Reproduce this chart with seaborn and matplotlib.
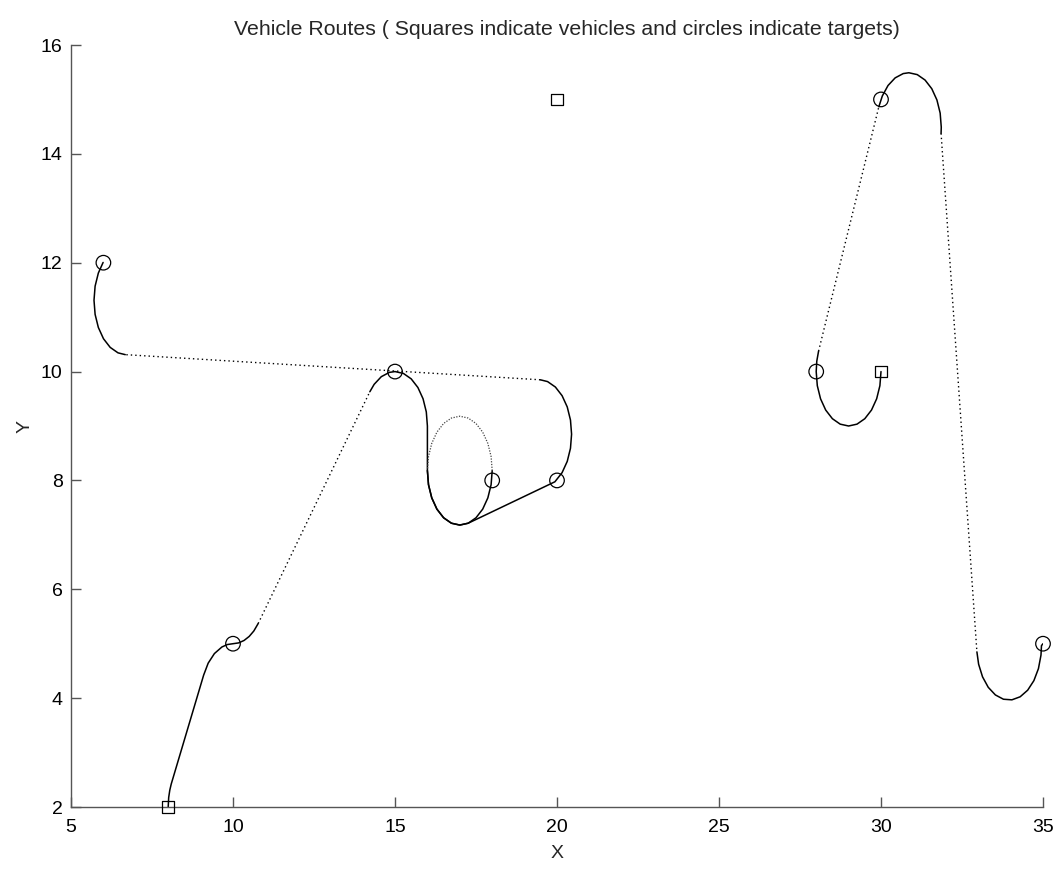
import matplotlib
matplotlib.use("Agg")
import matplotlib.pyplot as plt
import seaborn as sns
import pandas as pd

# ---------------- data ----------------
# vehicles (squares) and targets (circles)
vehicle_x = [8, 20, 30]
vehicle_y = [2, 15, 10]
target_x = [10, 15, 18, 20, 6, 28, 30, 35]
target_y = [5, 10, 8, 8, 12, 10, 15, 5]

# Vehicle 1 route (starts at (8,2)) -- solid arcs / dotted straight legs
r1_a_x = [8.0, 8.015, 8.049, 8.094, 9.094, 9.234, 9.426, 9.658, 9.826, 10.0,
          10.174, 10.342, 10.5, 10.643, 10.777]
r1_a_y = [2.0, 2.174, 2.309, 2.423, 4.423, 4.643, 4.819, 4.940, 4.985, 5.0,
          5.015, 5.060, 5.134, 5.234, 5.371]
r1_b_x = [10.777, 14.223]
r1_b_y = [5.371, 9.629]
r1_c_x = [14.223, 14.357, 14.577, 14.826, 15.0, 15.259, 15.5, 15.707, 15.866,
          15.966, 16.0, 16.0, 16.034, 16.134, 16.293, 16.5, 16.741, 17.0,
          17.259, 17.5, 17.707, 17.866, 17.966, 18.0]
r1_c_y = [9.629, 9.766, 9.906, 9.985, 10.0, 9.966, 9.866, 9.707, 9.5,
          9.259, 9.0, 8.18, 7.921, 7.68, 7.473, 7.314, 7.214, 7.18,
          7.214, 7.314, 7.473, 7.68, 7.921, 8.18]
r1_loop_x = [18.0, 17.966, 17.866, 17.707, 17.5, 17.259, 17.0, 16.741, 16.5,
             16.293, 16.134, 16.034, 16.0]
r1_loop_y = [8.18, 8.439, 8.68, 8.887, 9.046, 9.146, 9.18, 9.146, 9.046,
             8.887, 8.68, 8.439, 8.18]
r1_d_x = [16.0, 16.034, 16.134, 16.293, 16.5, 16.741, 17.0, 17.259, 19.935,
          20.157, 20.316, 20.416, 20.45, 20.416, 20.316, 20.157, 19.95,
          19.709, 19.485]
r1_d_y = [8.18, 7.921, 7.68, 7.473, 7.314, 7.214, 7.18, 7.214, 7.975,
          8.143, 8.35, 8.591, 8.85, 9.109, 9.35, 9.557, 9.716,
          9.816, 9.849]
r1_e_x = [19.485, 6.675]
r1_e_y = [9.849, 10.311]
r1_f_x = [6.675, 6.451, 6.21, 6.003, 5.844, 5.744, 5.71, 5.744, 5.844, 5.991]
r1_f_y = [10.311, 10.344, 10.444, 10.603, 10.81, 11.051, 11.31, 11.569,
          11.81, 12.005]

# Vehicle 3 route (starts at (30,10))
r3_a_x = [30.0, 29.966, 29.866, 29.707, 29.5, 29.259, 29.0, 28.741, 28.5,
          28.293, 28.134, 28.034, 28.0, 28.018, 28.073]
r3_a_y = [10.0, 9.741, 9.5, 9.293, 9.134, 9.034, 9.0, 9.034, 9.134,
          9.293, 9.5, 9.741, 10.0, 10.191, 10.375]
r3_b_x = [28.073, 29.933]
r3_b_y = [10.375, 14.865]
r3_c_x = [29.933, 30.041, 30.217, 30.437, 30.686, 30.86, 31.119, 31.36,
          31.567, 31.726, 31.826, 31.86, 31.854]
r3_c_y = [14.865, 15.064, 15.256, 15.396, 15.475, 15.49, 15.456, 15.356,
          15.197, 14.99, 14.749, 14.49, 14.377]
r3_d_x = [31.854, 32.96]
r3_d_y = [14.377, 4.85]
r3_e_x = [32.96, 33.013, 33.134, 33.31, 33.53, 33.779, 34.04, 34.295,
          34.527, 34.719, 34.859, 34.938, 34.953, 35.0]
r3_e_y = [4.85, 4.623, 4.391, 4.199, 4.059, 3.98, 3.969, 4.025,
          4.146, 4.322, 4.542, 4.791, 4.965, 5.0]

x_ticks = [5, 10, 15, 20, 25, 30, 35]
y_ticks = [2, 4, 6, 8, 10, 12, 14, 16]
title_text = "Vehicle Routes ( Squares indicate vehicles and circles indicate targets)"

# ---------------- plotting ----------------
sns.set_theme(style="ticks")
plt.rcParams['font.family'] = ['Liberation Sans', 'DejaVu Sans']

fig = plt.figure(figsize=(10.63, 8.69), dpi=100)
ax = fig.add_axes([71 / 1063, 1 - 807 / 869, (1043 - 71) / 1063, (807 - 45) / 869])

solid = dict(color="black", linewidth=1.1, linestyle="-")
dotted = dict(color="black", linewidth=1.0, linestyle=(0, (1, 2.2)))
light = dict(color="#444444", linewidth=0.9, linestyle=(0, (1, 1.2)))

segments = [
    (r1_a_x, r1_a_y, solid), (r1_b_x, r1_b_y, dotted), (r1_c_x, r1_c_y, solid),
    (r1_loop_x, r1_loop_y, light), (r1_d_x, r1_d_y, solid),
    (r1_e_x, r1_e_y, dotted), (r1_f_x, r1_f_y, solid),
    (r3_a_x, r3_a_y, solid), (r3_b_x, r3_b_y, dotted), (r3_c_x, r3_c_y, solid),
    (r3_d_x, r3_d_y, dotted), (r3_e_x, r3_e_y, solid),
]
for sx, sy, st in segments:
    df = pd.DataFrame({"x": sx, "y": sy})
    sns.lineplot(data=df, x="x", y="y", sort=False, estimator=None, ax=ax,
                 legend=False, **st)

sns.scatterplot(x=target_x, y=target_y, marker="o", s=110, facecolors="none",
                edgecolors="black", linewidths=0.9, ax=ax, zorder=5, clip_on=False)
sns.scatterplot(x=vehicle_x, y=vehicle_y, marker="s", s=70, facecolors="none",
                edgecolors="black", linewidths=0.9, ax=ax, zorder=5, clip_on=False)

ax.set_xlim(5, 35)
ax.set_ylim(2, 16)
ax.set_xticks(x_ticks)
ax.set_yticks(y_ticks)
ax.tick_params(direction="in", length=7, width=1.0, color="#555555",
               labelsize=14, labelcolor="black")
ax.tick_params(axis="x", pad=9)
ax.tick_params(axis="y", pad=6)
for side in ["top", "right"]:
    ax.spines[side].set_visible(False)
for side in ["left", "bottom"]:
    ax.spines[side].set_color("#555555")
    ax.spines[side].set_linewidth(1.0)
ax.set_xlabel("X", fontsize=14, labelpad=6)
ax.set_ylabel("Y", fontsize=14, labelpad=5)
ax.set_title(title_text, fontsize=15.3, pad=7, x=0.51)
ax.grid(False)

fig.savefig("out.png", dpi=100, facecolor="white")
